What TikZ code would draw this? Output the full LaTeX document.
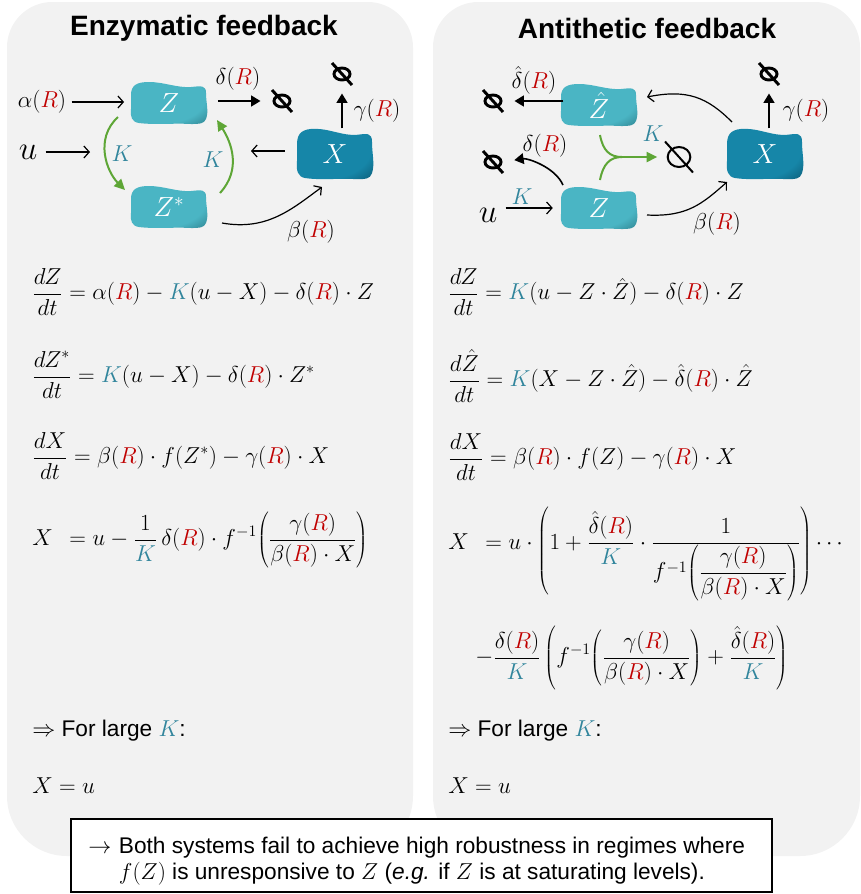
\documentclass[tikz,border=0pt]{standalone}
\usepackage{fontspec}
\setmainfont{Liberation Sans}
\usetikzlibrary{arrows.meta,shapes.geometric}
\definecolor{panelgray}{HTML}{F2F2F2}
\definecolor{rred}{HTML}{C00000}
\definecolor{kteal}{HTML}{31859C}
\definecolor{kgreen}{HTML}{5EA636}
\definecolor{zbase}{HTML}{4AB5C4}
\definecolor{zdark}{HTML}{256F7B}
\definecolor{xbase}{HTML}{1686A8}
\definecolor{xdark}{HTML}{084B63}
\newcommand\RR{{\color{rred}R}}
\newcommand\KK{{\color{kteal}K}}
\newcommand\tallstrut{\vrule height 30pt depth 30pt width 0pt}
\newcommand\bigopen{\mathopen{\lower 5.5pt\hbox{$\displaystyle\left(\tallstrut\right.\kern-\nulldelimiterspace$}}}
\newcommand\bigclose{\mathclose{\lower 5.5pt\hbox{$\displaystyle\kern-\nulldelimiterspace\left.\tallstrut\right)$}}}
\pgfdeclareradialshading{blobZ}{\pgfpoint{-12bp}{10bp}}{color(0bp)=(zbase); color(30bp)=(zbase); color(47bp)=(zdark); color(80bp)=(zdark)}
\pgfdeclareradialshading{blobX}{\pgfpoint{-12bp}{10bp}}{color(0bp)=(xbase); color(30bp)=(xbase); color(47bp)=(xdark); color(80bp)=(xdark)}
\newcommand\drawblob[3][]{%
  \begin{scope}[shift={#2},#1]
    \shade[shading=#3] (-38,-8) .. controls (-38,-18) and (-32,-21) .. (-20,-21)
      .. controls (-5,-21) and (8,-15) .. (22,-16)
      .. controls (32,-17) and (37,-18) .. (37,-10)
      .. controls (37,0) and (40,8) .. (37,16)
      .. controls (35,21) and (30,21) .. (22,21)
      .. controls (5,20) and (-15,22) .. (-30,20)
      .. controls (-37,19) and (-39,14) .. (-38,6) -- cycle;
  \end{scope}}
\begin{document}
\begin{tikzpicture}[x=0.75pt,y=-0.75pt,
  eq/.style={anchor=west,inner sep=0pt,font=\fontsize{17}{20}\selectfont},
  lbl/.style={inner sep=1pt,font=\fontsize{17}{20}\selectfont},
  txt/.style={anchor=west,inner sep=0pt,font=\fontsize{17}{20}\selectfont},
  blobtxt/.style={minimum width=57pt,minimum height=31pt,inner sep=0pt,text=white,font=\fontsize{20}{22}\selectfont},
  nullset/.style={ellipse,draw,line width=2.2pt,minimum width=12pt,minimum height=9pt,inner sep=0pt},
  bignull/.style={ellipse,draw,line width=1.5pt,minimum width=17pt,minimum height=15pt,inner sep=0pt},
  slash/.style={line width=2.2pt},
  thinarr/.style={line width=0.9pt,-{Straight Barb[length=4pt,width=9pt]}},
  thickarr/.style={line width=1.5pt,-{Triangle[length=7pt,width=8pt]}},
  greenarr/.style={kgreen,line width=1.5pt,-{Triangle[length=8pt,width=7.5pt]}},
  greenline/.style={kgreen,line width=1.5pt},
  title/.style={font=\bfseries\fontsize{21}{24}\selectfont},
]
\useasboundingbox (0,0) rectangle (861,894);
% panels
\fill[panelgray] (7,400) [rounded corners=34pt] -- (7,2) -- (413,2) -- (413,400) [rounded corners=45pt] -- (413,856) -- (7,856) -- cycle;
\fill[panelgray] (433,400) [rounded corners=34pt] -- (433,2) -- (860,2) -- (860,400) [rounded corners=45pt] -- (860,856) -- (433,856) -- cycle;
% titles
\node[title] (t1) at (204,28) {Enzymatic feedback};
\node[title] (t2) at (647,28) {Antithetic feedback};

% ===== left diagram =====
\drawblob{(169,103)}{blobZ}
\drawblob{(169,207)}{blobZ}
\drawblob[yscale=1.2]{(335,154)}{blobX}
\node[blobtxt] (Z) at (169,103) {$Z$};
\node[blobtxt] (Zs) at (169,207) {$Z^{*}$};
\node[blobtxt,minimum height=36pt] (X) at (335,154) {$X$};

\node[lbl] (alpha) at (42,102) {$\alpha(\RR)$};
\draw[thinarr,shorten <=3pt,shorten >=5pt] (alpha.east) -- (alpha.east -| Z.west);

\node[lbl,font=\fontsize{24}{26}\selectfont] (u) at (28,152) {$u$};
\coordinate (uend) at (90,152);
\draw[thinarr,shorten <=5pt] (u.east |- uend) -- (uend);

\node[nullset] (n1) at (282,101) {};
\draw[slash] ([shift={(-10,-11)}]n1.center) -- ([shift={(10,11)}]n1.center);
\draw[thickarr,shorten <=8pt,shorten >=9pt] (Z.east |- n1) -- (n1.west);
\node[lbl] (d1) at (238,79) {$\delta(\RR)$};

\node[nullset] (n2) at (342,74) {};
\draw[slash] ([shift={(-10,-11)}]n2.center) -- ([shift={(10,11)}]n2.center);
\draw[thickarr,shorten <=1pt,shorten >=9pt] (X.north -| n2) -- (n2.south);
\node[lbl] (g1) at (377,111) {$\gamma(\RR)$};

\draw[greenarr] ([shift={(-51,14)}]Z.center) .. controls +(-24,22) and +(-18,-18) .. ([shift={(-44,-17)}]Zs.center);
\node[lbl,text=kteal] (k1) at (122,154) {$K$};
\draw[greenarr] ([shift={(51,-14)}]Zs.center) .. controls +(22,-24) and +(14,22) .. ([shift={(48,17)}]Z.center);
\node[lbl,text=kteal] (k2) at (213,160) {$K$};

\coordinate (xl) at (251,151);
\draw[thinarr,shorten <=9pt] (X.west |- xl) -- (xl);

\draw[thinarr] ([shift={(53,16)}]Zs.center) .. controls +(45,8) and +(-30,22) .. ([shift={(-13,33)}]X.center);
\node[lbl] (b1) at (311,232) {$\beta(\RR)$};

% ===== right diagram =====
\drawblob{(599,105)}{blobZ}
\drawblob{(599,208)}{blobZ}
\drawblob[yscale=1.2]{(765,154)}{blobX}
\node[blobtxt] (Zh) at (599,105) {$\hat Z$};
\node[blobtxt] (Z2) at (599,208) {$Z$};
\node[blobtxt,minimum height=36pt] (X2) at (765,154) {$X$};

\node[nullset] (n3) at (493,101) {};
\draw[slash] ([shift={(-10,-11)}]n3.center) -- ([shift={(10,11)}]n3.center);
\draw[thickarr,shorten <=-2pt,shorten >=9pt] (Zh.west |- n3) -- (n3.east);
\node[lbl] (d2) at (534,80) {$\hat\delta(\RR)$};

\node[nullset] (n4) at (493,162) {};
\draw[slash] ([shift={(-10,-11)}]n4.center) -- ([shift={(10,11)}]n4.center);
\draw[thinarr,line width=1.2pt,-{Triangle[length=7pt,width=8pt]},shorten >=9pt] ([shift={(-36,-23)}]Z2.center) .. controls +(-8,-18) and +(25,-4) .. (n4.east);
\node[lbl] (d3) at (545,146) {$\delta(\RR)$};

\node[lbl,font=\fontsize{24}{26}\selectfont] (u2) at (488,215) {$u$};
\draw[thinarr,shorten <=5pt,shorten >=6pt] (u2.east |- Z2) -- (Z2.west);
\node[lbl,text=kteal] (k3) at (522,197) {$K$};

\node[bignull] (n5) at (679,157) {};
\draw[line width=1.5pt] ([shift={(-14,-15.5)}]n5.center) -- ([shift={(14,15.5)}]n5.center);
\coordinate (gm) at (622,157);
\draw[greenline] ([shift={(1,30)}]Zh.center) .. controls +(3,16) and +(-12,0) .. (gm);
\draw[greenline] ([shift={(1,-28)}]Z2.center) .. controls +(3,-16) and +(-12,0) .. (gm);
\draw[greenarr,shorten >=7pt] (gm) -- (n5.west);
\node[lbl,text=kteal] (k4) at (653,134) {$K$};

\draw[thinarr] ([shift={(-33,-32)}]X2.center) .. controls +(-25,-25) and +(40,-8) .. ([shift={(48,-8)}]Zh.center);

\node[nullset] (n6) at (769,74) {};
\draw[slash] ([shift={(-10,-11)}]n6.center) -- ([shift={(10,11)}]n6.center);
\draw[thickarr,shorten <=1pt,shorten >=9pt] (X2.north -| n6) -- (n6.south);
\node[lbl] (g2) at (806,111) {$\gamma(\RR)$};

\draw[thinarr] ([shift={(48,7)}]Z2.center) .. controls +(40,2) and +(-25,22) .. ([shift={(-38,28)}]X2.center);
\node[lbl] (b2) at (717,224) {$\beta(\RR)$};

% ===== left equations =====
\node[eq] (le1) at (32,292) {$\displaystyle\frac{dZ}{dt}=\alpha(\RR)-\KK(u-X)-\delta(\RR)\cdot Z$};
\node[eq] (le2) at (32,375) {$\displaystyle\frac{dZ^{*}}{dt}=\KK(u-X)-\delta(\RR)\cdot Z^{*}$};
\node[eq] (le3) at (32,456) {$\displaystyle\frac{dX}{dt}=\beta(\RR)\cdot f(Z^{*})-\gamma(\RR)\cdot X$};
\node[eq] (le4) at (32,540) {$\displaystyle X\;\,=u-\frac{1}{\KK}\,\delta(\RR)\cdot f^{-1}\!\left(\frac{\gamma(\RR)}{\beta(\RR)\cdot X}\right)$};
\node[txt] (lt1) at (32,731) {$\Rightarrow$ For large $\KK$:};
\node[eq] (lt2) at (32,786) {$X=u$};

% ===== right equations =====
\node[eq] (re1) at (448,292) {$\displaystyle\frac{dZ}{dt}=\KK\big(u-Z\cdot\hat Z\big)-\delta(\RR)\cdot Z$};
\node[eq] (re2) at (448,376) {$\displaystyle\frac{d\hat Z}{dt}=\KK\big(X-Z\cdot\hat Z\big)-\hat\delta(\RR)\cdot\hat Z$};
\node[eq] (re3) at (448,457) {$\displaystyle\frac{dX}{dt}=\beta(\RR)\cdot f(Z)-\gamma(\RR)\cdot X$};
\node[eq,anchor=base west] (re4) at (448,549) {$\displaystyle X\;\,=u\cdot\bigopen 1+\frac{\hat\delta(\RR)}{\KK}\cdot\frac{1}{f^{-1}\!\left({\displaystyle\frac{\gamma(\RR)}{\beta(\RR)\cdot X}}\right)}\bigclose\cdots$};
\node[eq] (re5) at (475,658) {$\displaystyle -\frac{\delta(\RR)}{\KK}\left(f^{-1}\!\left(\frac{\gamma(\RR)}{\beta(\RR)\cdot X}\right)+\frac{\hat\delta(\RR)}{\KK}\right)$};
\node[txt] (rt1) at (448,731) {$\Rightarrow$ For large $\KK$:};
\node[eq] (rt2) at (448,786) {$X=u$};

% ===== bottom box =====
\node[draw,line width=1.1pt,fill=white,minimum width=525.75pt,minimum height=54.75pt,inner sep=0pt] (box) at (421.5,855.5) {};
\node[anchor=west,inner sep=0pt,align=left,font=\fontsize{17}{20}\selectfont] (boxtxt) at (88,861) {\makebox[23pt][l]{$\rightarrow$}Both systems fail to achieve high robustness in regimes where\\\hspace*{23pt}$f(Z)$ is unresponsive to $Z$ (\textit{e.g.} if $Z$ is at saturating levels).};
\end{tikzpicture}
\end{document}
